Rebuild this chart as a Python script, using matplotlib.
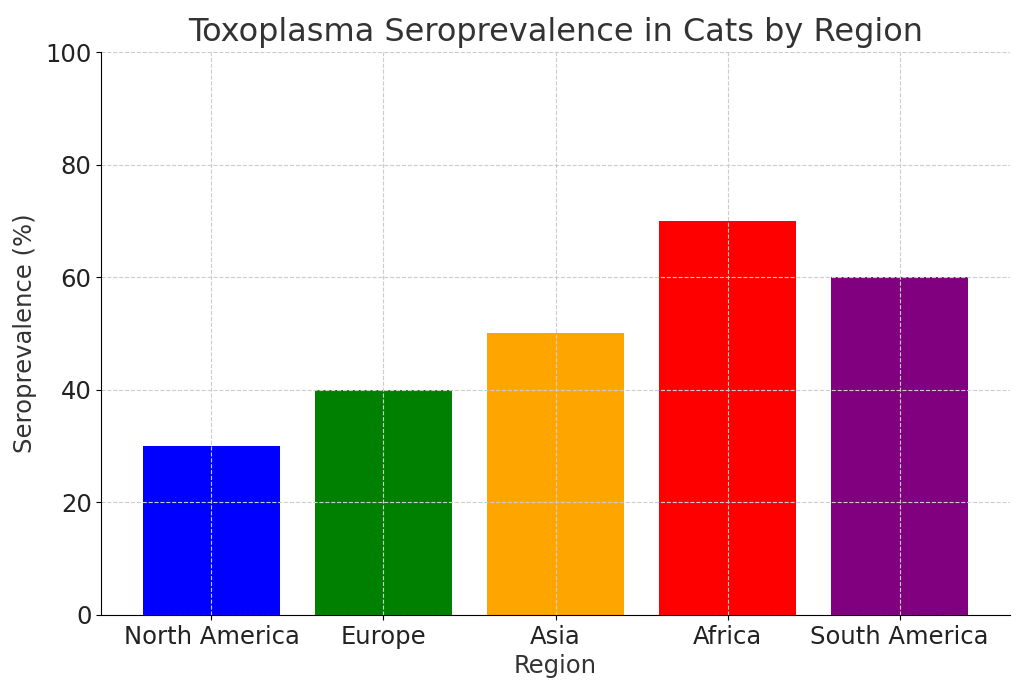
import matplotlib
matplotlib.use('Agg')
import matplotlib.pyplot as plt

regions = ['North America', 'Europe', 'Asia', 'Africa', 'South America']
prevalence = [30, 40, 50, 70, 60]
colors = ['blue', 'green', 'orange', 'red', 'purple']

fig = plt.figure(figsize=(10.24, 6.94), dpi=100)
ax = fig.add_axes([0.099, 0.114, 0.887, 0.811])
ax.bar(regions, prevalence, color=colors)
ax.set_ylim(0, 100)
ax.set_title('Toxoplasma Seroprevalence in Cats by Region', fontsize=23, color='#333333', pad=8)
ax.set_xlabel('Region', fontsize=17.5, color='#333333', labelpad=4)
ax.set_ylabel('Seroprevalence (%)', fontsize=17.5, color='#333333', labelpad=6)
ax.tick_params(labelsize=17.5, labelcolor='#222222')
ax.grid(True, linestyle='--', color='#cccccc', linewidth=0.8)
ax.spines['top'].set_visible(False)
ax.spines['right'].set_visible(False)
fig.savefig('out.png', dpi=100)
